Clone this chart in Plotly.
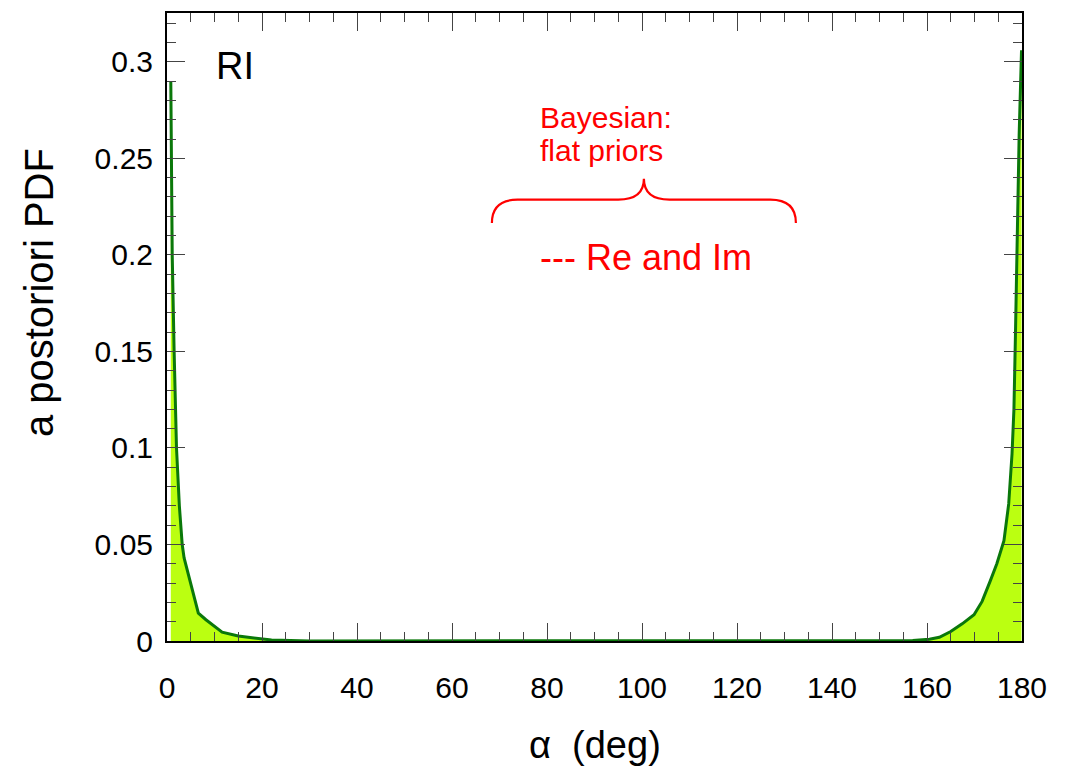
import plotly.graph_objects as go

# ---- data ----
left_alpha = [0.8, 1.1, 1.5, 2.0, 2.6, 3.2, 3.6, 4.65, 5.7, 6.6, 8.2, 9.9, 11.6, 15.0, 18.7, 22.0, 30.0]
left_pdf = [0.29, 0.20, 0.15, 0.10, 0.07, 0.05, 0.043, 0.0325, 0.022, 0.0144, 0.011, 0.0077, 0.0046, 0.0026, 0.0014, 0.0005, 0.0]

mid_alpha = [60.0, 90.0, 120.0]
mid_pdf = [0.0, 0.0, 0.0]

right_alpha = [150.0, 157.0, 160.5, 162.6, 165.0, 167.4, 169.9, 171.6, 173.3, 174.7, 176.2, 177.2, 177.9, 178.3, 178.6, 179.0, 179.4, 179.9]
right_pdf = [0.0, 0.0002, 0.0009, 0.0019, 0.0049, 0.0089, 0.0136, 0.0205, 0.031, 0.040, 0.052, 0.071, 0.097, 0.12, 0.156, 0.209, 0.262, 0.306]

x_ticks = [0, 20, 40, 60, 80, 100, 120, 140, 160, 180]
y_ticks = [0, 0.05, 0.1, 0.15, 0.2, 0.25, 0.3]
y_tick_labels = ["0", "0.05", "0.1", "0.15", "0.2", "0.25", "0.3"]

alpha = left_alpha + mid_alpha + right_alpha
pdf = left_pdf + mid_pdf + right_pdf

FONT = "Liberation Sans, Arial, Helvetica, sans-serif"

fig = go.Figure()
fig.add_trace(go.Scatter(
    x=alpha, y=pdf, mode="lines",
    line=dict(color="#0a780a", width=3),
    fill="tozeroy", fillcolor="#bbff11",
    showlegend=False, hoverinfo="skip",
))

axis_common = dict(
    showline=True, linecolor="black", linewidth=2, mirror="allticks",
    ticks="inside", tickcolor="#444", tickwidth=1.2, ticklen=18,
    showgrid=False, zeroline=False,
    tickfont=dict(family=FONT, size=30, color="black"),
)

fig.update_xaxes(
    range=[0, 180], tickvals=x_ticks,
    minor=dict(dtick=5, ticks="inside", ticklen=9, tickcolor="#444", tickwidth=1.2, showgrid=False),
    ticklabelstandoff=19,
    **axis_common,
)
fig.update_yaxes(
    range=[0, 0.3253], tickvals=y_ticks, ticktext=y_tick_labels,
    minor=dict(dtick=0.01, ticks="inside", ticklen=9, tickcolor="#444", tickwidth=1.2, showgrid=False),
    ticklabelstandoff=6,
    **axis_common,
)

# brace (annotation drawing, in data coordinates)
brace = ("M 68.4,0.2165 Q 68.4,0.2286 73.8,0.2286 L 95.0,0.2286 "
         "Q 100.4,0.2286 100.4,0.2394 Q 100.4,0.2286 105.8,0.2286 "
         "L 127.0,0.2286 Q 132.4,0.2286 132.4,0.2165")
fig.add_shape(type="path", path=brace, xref="x", yref="y",
              line=dict(color="#ff0000", width=2.2))

annotations = [
    dict(text="RI", x=0.0795, y=0.915, xref="paper", yref="paper",
         xanchor="center", yanchor="middle", showarrow=False,
         font=dict(family=FONT, size=38, color="black")),
    dict(text="Bayesian:", x=0.4345, y=(641 - 115.5) / 630, xref="paper", yref="paper",
         xanchor="left", yanchor="middle", showarrow=False,
         font=dict(family=FONT, size=30, color="#ff0000")),
    dict(text="flat priors", x=0.4345, y=(641 - 149) / 630, xref="paper", yref="paper",
         xanchor="left", yanchor="middle", showarrow=False,
         font=dict(family=FONT, size=30, color="#ff0000")),
    dict(text="--- Re and Im", x=0.4345, y=(641 - 256) / 630, xref="paper", yref="paper",
         xanchor="left", yanchor="middle", showarrow=False,
         font=dict(family=FONT, size=36, color="#ff0000")),
    dict(text="a postoriori PDF", x=(39 - 167) / 855, y=(641 - 292) / 630,
         xref="paper", yref="paper", textangle=-90,
         xanchor="center", yanchor="middle", showarrow=False,
         font=dict(family=FONT, size=40, color="black")),
    dict(text="α  (deg)", x=0.5, y=(641 - 745) / 630, xref="paper", yref="paper",
         xanchor="center", yanchor="middle", showarrow=False,
         font=dict(family=FONT, size=38, color="black")),
]

# page body has an 8px default margin: size the figure so the plot frame lands
# where the reference has it
fig.update_layout(
    width=1060, height=758,
    margin=dict(l=159, r=46, t=3, b=125),
    paper_bgcolor="white", plot_bgcolor="white",
    annotations=annotations,
)

fig.write_html("out.html")
